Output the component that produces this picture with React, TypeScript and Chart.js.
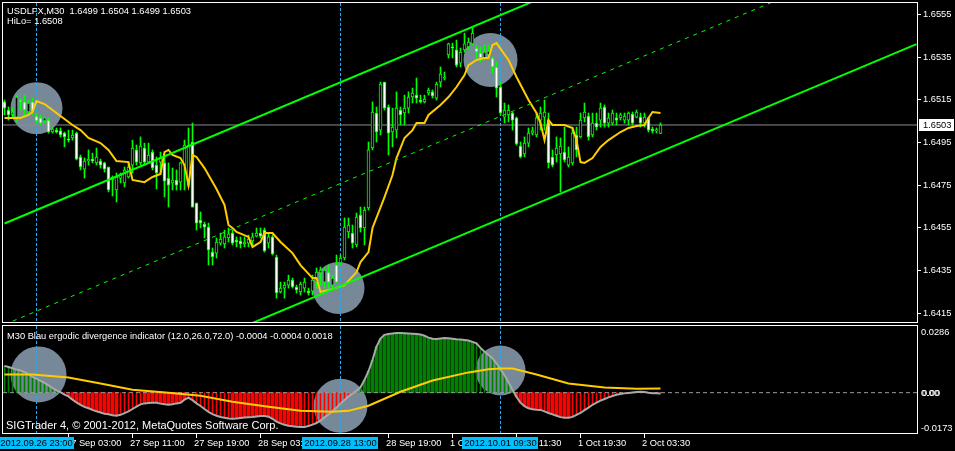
import React, { useEffect, useRef } from 'react';
import { Chart, registerables } from 'chart.js';
Chart.register(...registerables);

// ---------- main panel data (USDLFX, M30) ----------
const barOpen = [
  1.65138, 1.651, 1.65081, 1.65067, 1.65147, 1.65138, 1.65091, 1.65138, 1.65072, 1.65063,
  1.65049, 1.65053, 1.64997, 1.65006, 1.65002, 1.64992, 1.64964, 1.64969, 1.64992, 1.6488,
  1.64823, 1.64861, 1.6487, 1.64852, 1.64861, 1.64852, 1.64833, 1.64772, 1.64725, 1.64781,
  1.64758, 1.64786, 1.64842, 1.64913, 1.64852, 1.64922, 1.64856, 1.64903, 1.64842, 1.64856,
  1.64852, 1.64781, 1.64758, 1.64772, 1.64762, 1.64842, 1.64748, 1.6495, 1.64664, 1.64584,
  1.64565, 1.64551, 1.64434, 1.64429, 1.64476, 1.64472, 1.645, 1.64523, 1.6449, 1.64486,
  1.64472, 1.64476, 1.64486, 1.64509, 1.64523, 1.64537, 1.64476, 1.64505, 1.64411, 1.64247,
  1.64265, 1.64279, 1.64303, 1.6427, 1.64247, 1.64265, 1.64251, 1.64251, 1.64293, 1.64336,
  1.64293, 1.6434, 1.64279, 1.64373, 1.64383, 1.64406, 1.64528, 1.64523, 1.64467, 1.64608,
  1.64547, 1.64641, 1.64922, 1.65086, 1.65006, 1.65231, 1.65114, 1.64997, 1.65006, 1.651,
  1.65086, 1.65109, 1.65161, 1.6517, 1.65147, 1.65138, 1.6518, 1.65185, 1.65156, 1.65231,
  1.6525, 1.65358, 1.65396, 1.65382, 1.6532, 1.65382, 1.65396, 1.6541, 1.65391, 1.65367,
  1.65344, 1.65358, 1.65344, 1.65302, 1.65208, 1.65067, 1.65077, 1.65086, 1.65063, 1.64931,
  1.64894, 1.64945, 1.64992, 1.64983, 1.65053, 1.65067, 1.65053, 1.6488, 1.64889, 1.64894,
  1.64903, 1.64842, 1.64852, 1.64983, 1.64974, 1.65063, 1.65072, 1.64983, 1.65039, 1.65053,
  1.65114, 1.65039, 1.65039, 1.65063, 1.65063, 1.65053, 1.65053, 1.65081, 1.65067, 1.65067,
  1.65039, 1.65063, 1.65011, 1.65002, 1.6499,
];
const barHigh = [
  1.65147, 1.65114, 1.65109, 1.6517, 1.65152, 1.6517, 1.65147, 1.65156, 1.65086, 1.65077,
  1.65067, 1.65063, 1.6502, 1.65016, 1.65016, 1.64997, 1.65006, 1.65006, 1.64997, 1.64889,
  1.64875, 1.64913, 1.64898, 1.64922, 1.6487, 1.64856, 1.64833, 1.64791, 1.64805, 1.64805,
  1.64833, 1.64856, 1.64959, 1.64936, 1.64974, 1.64945, 1.64945, 1.64913, 1.6488, 1.64903,
  1.64889, 1.64852, 1.64828, 1.64819, 1.64856, 1.64959, 1.65016, 1.65039, 1.64664, 1.64622,
  1.64575, 1.6457, 1.64453, 1.645, 1.64523, 1.64537, 1.64547, 1.64537, 1.64505, 1.64505,
  1.64505, 1.64514, 1.64523, 1.64547, 1.64547, 1.64547, 1.64523, 1.64514, 1.6442, 1.64293,
  1.64293, 1.64326, 1.64312, 1.64279, 1.64293, 1.64312, 1.64265, 1.64326, 1.64359, 1.64364,
  1.64359, 1.64373, 1.64326, 1.6442, 1.6442, 1.64594, 1.64594, 1.64561, 1.64617, 1.64645,
  1.64645, 1.6495, 1.65138, 1.65114, 1.65231, 1.65231, 1.65124, 1.65109, 1.65185, 1.65114,
  1.6517, 1.65185, 1.65203, 1.6525, 1.6517, 1.6517, 1.65203, 1.65194, 1.65231, 1.65302,
  1.65278, 1.65414, 1.65414, 1.65428, 1.65391, 1.65461, 1.65438, 1.65485, 1.65405, 1.65396,
  1.65405, 1.65405, 1.65349, 1.65325, 1.65231, 1.65133, 1.65124, 1.65091, 1.65067, 1.6495,
  1.64974, 1.65016, 1.6502, 1.65086, 1.65114, 1.65147, 1.65086, 1.64913, 1.64974, 1.64969,
  1.6502, 1.64927, 1.6502, 1.6502, 1.65086, 1.65133, 1.65086, 1.65086, 1.65086, 1.65133,
  1.65124, 1.65086, 1.651, 1.65086, 1.65086, 1.65086, 1.65091, 1.65091, 1.651, 1.65086,
  1.65086, 1.65067, 1.6502, 1.65016, 1.6504,
];
const barLow = [
  1.65077, 1.65053, 1.65063, 1.65044, 1.651, 1.65077, 1.65086, 1.65077, 1.65039, 1.6503,
  1.65039, 1.64992, 1.64992, 1.64992, 1.64974, 1.64927, 1.6495, 1.64959, 1.64866, 1.64819,
  1.64781, 1.64842, 1.64852, 1.64842, 1.64828, 1.64809, 1.64716, 1.64697, 1.64669, 1.64758,
  1.64739, 1.64781, 1.64805, 1.64842, 1.64842, 1.64842, 1.64852, 1.64819, 1.6473, 1.64805,
  1.64692, 1.64645, 1.64725, 1.64725, 1.64725, 1.64725, 1.64739, 1.64645, 1.64537, 1.64547,
  1.645, 1.64373, 1.64373, 1.64406, 1.64467, 1.64453, 1.64481, 1.64467, 1.64458, 1.64453,
  1.64458, 1.64458, 1.64467, 1.64505, 1.645, 1.64434, 1.64453, 1.6442, 1.64218, 1.64242,
  1.64218, 1.64265, 1.64265, 1.64242, 1.64232, 1.64247, 1.64232, 1.64232, 1.64265, 1.64279,
  1.64265, 1.64265, 1.64256, 1.64289, 1.64373, 1.64397, 1.645, 1.64453, 1.64458, 1.64528,
  1.64467, 1.64631, 1.64913, 1.6495, 1.64983, 1.651, 1.64889, 1.64927, 1.64969, 1.6503,
  1.6503, 1.65086, 1.65133, 1.65133, 1.65133, 1.65133, 1.6517, 1.65156, 1.65147, 1.65208,
  1.65241, 1.65344, 1.65344, 1.65302, 1.65302, 1.65372, 1.65382, 1.65405, 1.65344, 1.65325,
  1.65335, 1.65344, 1.65274, 1.65161, 1.65077, 1.65039, 1.65044, 1.65006, 1.64936, 1.64875,
  1.6488, 1.64927, 1.64983, 1.64974, 1.65006, 1.65006, 1.64828, 1.64833, 1.64856, 1.64716,
  1.64856, 1.64833, 1.64842, 1.6488, 1.64969, 1.65044, 1.64959, 1.64974, 1.65006, 1.6502,
  1.6502, 1.6502, 1.6503, 1.6503, 1.65053, 1.65039, 1.6503, 1.6503, 1.65063, 1.6502,
  1.6502, 1.64997, 1.64992, 1.64992, 1.6499,
];
const barClose = [
  1.65109, 1.65077, 1.65091, 1.65161, 1.65138, 1.651, 1.65133, 1.65091, 1.65049, 1.65039,
  1.65063, 1.64997, 1.65011, 1.64997, 1.64983, 1.64974, 1.64959, 1.64983, 1.6487, 1.64833,
  1.64861, 1.6487, 1.64861, 1.6488, 1.64842, 1.64823, 1.64725, 1.64786, 1.64786, 1.64795,
  1.64819, 1.64833, 1.64922, 1.64856, 1.64931, 1.64856, 1.64889, 1.64828, 1.64805, 1.64875,
  1.64767, 1.64748, 1.64772, 1.64748, 1.64852, 1.64936, 1.64936, 1.64645, 1.6457, 1.6457,
  1.64551, 1.64444, 1.64411, 1.64481, 1.64495, 1.64505, 1.64519, 1.64476, 1.64481, 1.64472,
  1.64481, 1.64495, 1.64505, 1.64523, 1.64509, 1.64439, 1.64505, 1.64425, 1.64242, 1.64265,
  1.64279, 1.64303, 1.6427, 1.64256, 1.64284, 1.64293, 1.64242, 1.64303, 1.6434, 1.6435,
  1.6435, 1.64293, 1.64312, 1.64293, 1.64406, 1.64551, 1.64561, 1.64476, 1.64598, 1.64547,
  1.64631, 1.64913, 1.65091, 1.64997, 1.65222, 1.65109, 1.64992, 1.6502, 1.65109, 1.65077,
  1.65109, 1.65161, 1.6518, 1.65156, 1.65138, 1.65152, 1.65194, 1.65166, 1.65222, 1.65269,
  1.65255, 1.6541, 1.65391, 1.65311, 1.65372, 1.6541, 1.65419, 1.65461, 1.65372, 1.65344,
  1.65372, 1.65377, 1.65302, 1.65203, 1.65086, 1.651, 1.651, 1.65053, 1.64941, 1.6488,
  1.64945, 1.64992, 1.65002, 1.65063, 1.65086, 1.65091, 1.64852, 1.64842, 1.64922, 1.64931,
  1.64866, 1.6488, 1.64992, 1.64913, 1.65053, 1.65091, 1.64974, 1.65039, 1.6502, 1.65109,
  1.65039, 1.65063, 1.65086, 1.65053, 1.65077, 1.65072, 1.65086, 1.65039, 1.65091, 1.65039,
  1.65067, 1.65006, 1.65002, 1.65006, 1.6503,
];

// moving average (yellow) read at bar indices
const maIdx = [
  0, 4, 6, 7, 8, 10, 12, 15, 17, 19, 21, 24, 26, 28, 31, 32, 35, 37, 39, 40,
  41, 42, 44, 45, 46, 47, 48, 50, 53, 55, 56, 57, 58, 61, 62, 64, 65, 67, 69, 72,
  74, 77, 78, 79, 80, 82, 85, 88, 89, 91, 92, 95, 97, 98, 100, 102, 103, 105, 106, 109,
  111, 113, 115, 116, 118, 120, 121, 122, 123, 126, 128, 131, 133, 134, 135, 136, 137, 140, 142, 143,
  144, 145, 147, 149, 151, 154, 156, 158, 160, 161, 162, 164,
];
const maVal = [
  1.65063, 1.65063, 1.65077, 1.65091, 1.65142, 1.65128, 1.651, 1.65058, 1.6503, 1.65006,
  1.64969, 1.64945, 1.64913, 1.64861, 1.64856, 1.64772, 1.64762, 1.64786, 1.648, 1.64903,
  1.64913, 1.64889, 1.64875, 1.64842, 1.64748, 1.64889, 1.6488, 1.64828, 1.6473, 1.64655,
  1.64561, 1.64547, 1.64528, 1.64505, 1.64458, 1.64481, 1.64523, 1.64523, 1.64481, 1.64429,
  1.64373, 1.64312, 1.64312, 1.64247, 1.64251, 1.6426, 1.64279, 1.6434, 1.64387, 1.64434,
  1.64547, 1.64692, 1.64795, 1.64875, 1.64969, 1.65006, 1.65039, 1.65039, 1.65077, 1.65124,
  1.65161, 1.65208, 1.65264, 1.65311, 1.65335, 1.65344, 1.65344, 1.65405, 1.65414, 1.65335,
  1.65255, 1.65147, 1.65086, 1.65039, 1.64959, 1.65053, 1.6503, 1.6503, 1.65016, 1.64959,
  1.64856, 1.64852, 1.64875, 1.64927, 1.64959, 1.64997, 1.65016, 1.65025, 1.6503, 1.65063,
  1.65091, 1.65086,
];

// regression channel (rays), values at the two end bar indices
const channelIdx = [0, 228];
const channelUpper = [1.64568, 1.66365];
const channelMiddle = [1.64094, 1.6589];
const channelLower = [1.63613, 1.65409];

const priceTicks = [1.6555, 1.6535, 1.6515, 1.6495, 1.6475, 1.6455, 1.6435, 1.6415];
const bidPrice = 1.6503;

// annotation circles
const mainCircleIdx = [8, 83.5, 121.5];
const mainCirclePrice = [1.65109, 1.64265, 1.65335];

// ---------- indicator panel data ----------
const ergodic = [
  0.0115, 0.011, 0.0105, 0.0099, 0.0095, 0.0088, 0.0078, 0.0068, 0.006, 0.0051,
  0.0042, 0.0031, 0.002, 0.001, 0.0002, -0.0008, -0.0016, -0.003, -0.0042, -0.0052,
  -0.0061, -0.0067, -0.0074, -0.008, -0.0085, -0.009, -0.0093, -0.0097, -0.0099, -0.0095,
  -0.0088, -0.008, -0.007, -0.006, -0.005, -0.0046, -0.0044, -0.0043, -0.0043, -0.0047,
  -0.005, -0.0052, -0.005, -0.0046, -0.0043, -0.003, -0.0021, -0.0032, -0.0046, -0.0057,
  -0.007, -0.0082, -0.0092, -0.0099, -0.0104, -0.0108, -0.0111, -0.0112, -0.0111, -0.0109,
  -0.0107, -0.0105, -0.0104, -0.0102, -0.01, -0.01, -0.0103, -0.0112, -0.0124, -0.0132,
  -0.0138, -0.0142, -0.0144, -0.0146, -0.0147, -0.0147, -0.0143, -0.0137, -0.013, -0.012,
  -0.0106, -0.0093, -0.008, -0.0064, -0.0047, -0.0031, -0.0016, -0.0004, 0.0008, 0.0023,
  0.0055, 0.0092, 0.014, 0.0198, 0.0232, 0.0248, 0.0252, 0.0254, 0.0256, 0.0256,
  0.0255, 0.0254, 0.0253, 0.0252, 0.025, 0.0244, 0.0236, 0.0231, 0.023, 0.0232,
  0.0234, 0.0233, 0.0231, 0.0229, 0.0228, 0.0226, 0.0224, 0.0218, 0.0212, 0.0192,
  0.0176, 0.0162, 0.0148, 0.0125, 0.01, 0.0075, 0.0045, 0.0012, -0.0018, -0.0043,
  -0.0058, -0.0067, -0.0071, -0.0073, -0.0074, -0.008, -0.0087, -0.0093, -0.0099, -0.0105,
  -0.0108, -0.0108, -0.0104, -0.0095, -0.0087, -0.0075, -0.0064, -0.0052, -0.0043, -0.0034,
  -0.0027, -0.002, -0.0014, -0.0009, -0.0006, -0.0003, -0.0001, 0.0001, 0.0003, 0.0004,
  0.0003, 0.0, -0.0002, -0.0003, -0.0004,
];
// bar ranges where the histogram is drawn wide (solid) in the picture
const wideStart = [16, 35, 57, 90, 128, 136];
const wideEnd = [28, 45, 74, 117, 134, 141];
const signalIdx = [0, 7, 16, 24, 32, 41, 49, 57, 66, 74, 82, 86, 91, 99, 107, 116, 121, 124, 127, 133, 141, 150, 158, 164];
const signalVal = [
  0.0078, 0.0078, 0.0065, 0.0039, 0.0013, 0.0, -0.0013, -0.0039, -0.006, -0.0078,
  -0.0082, -0.0078, -0.0056, 0.0004, 0.0052, 0.0087, 0.01, 0.0104, 0.0104, 0.0078,
  0.0039, 0.0022, 0.0017, 0.0018,
];
const indTicks = [0.0286, 0, -0.0173];
const indTickLabels = ['0.0286', '0.00', '-0.0173'];
const indCircleIdx = [8.5, 84, 124];
const indCircleVal = [0.0078, -0.0056, 0.0095];

// ---------- time axis ----------
const timeTickIdx = [16, 32, 48, 64, 96, 112, 128, 144, 160];
const timeTickLabels = [
  '27 Sep 03:00', '27 Sep 11:00', '27 Sep 19:00', '28 Sep 03:00', '28 Sep 19:00',
  '1 Oct 03:30', '1 Oct 11:30', '1 Oct 19:30', '2 Oct 03:30',
];
const markerIdx = [8, 84, 124];
const markerLabels = ['2012.09.26 23:00', '2012.09.28 13:00', '2012.10.01 09:30'];

// ---------- styles ----------
const X_MIN = -0.375;
const X_MAX = 228.125;
const PRICE_MIN = 1.64106;
const PRICE_MAX = 1.65602;
const IND_MIN = -0.0173;
const IND_MAX = 0.0286;
const FONT = "9.3px 'Liberation Sans', Arial, sans-serif";
const FOOTER_FONT = "11px 'Liberation Sans', Arial, sans-serif";
const LIME = '#00ff00';
const GOLD = '#ffcc00';
const SLATE = '#778899';
const SEP_BLUE = '#2aa8e8';
const BOX_BLUE = '#00bfff';
const MAIN_CIRCLE_R = [26, 26, 27];
const IND_CIRCLE_R = [28, 27, 25];

function drawVLines(chart: any) {
  const { ctx, chartArea, scales } = chart;
  ctx.save();
  ctx.strokeStyle = SEP_BLUE;
  ctx.lineWidth = 1;
  ctx.setLineDash([3, 2]);
  markerIdx.forEach((i) => {
    const x = Math.floor(scales.x.getPixelForValue(i)) + 0.5;
    ctx.beginPath();
    ctx.moveTo(x, chartArea.top);
    ctx.lineTo(x, chartArea.bottom);
    ctx.stroke();
  });
  ctx.restore();
}

function drawCircles(chart: any, idx: number[], val: number[], rad: number[]) {
  const { ctx, scales, chartArea } = chart;
  ctx.save();
  ctx.beginPath();
  ctx.rect(chartArea.left, chartArea.top, chartArea.right - chartArea.left, chartArea.bottom - chartArea.top);
  ctx.clip();
  ctx.fillStyle = SLATE;
  idx.forEach((i, k) => {
    ctx.beginPath();
    ctx.arc(scales.x.getPixelForValue(i), scales.y.getPixelForValue(val[k]), rad[k], 0, Math.PI * 2);
    ctx.fill();
  });
  ctx.restore();
}

const mainPlugin = {
  id: 'mainDeco',
  beforeDraw(chart: any) {
    const { ctx, width, height } = chart;
    ctx.save();
    ctx.fillStyle = '#000';
    ctx.fillRect(0, 0, width, height);
    ctx.restore();
  },
  beforeDatasetsDraw(chart: any) {
    drawCircles(chart, mainCircleIdx, mainCirclePrice, MAIN_CIRCLE_R);
    drawVLines(chart);
  },
  afterDraw(chart: any) {
    const { ctx, scales } = chart;
    ctx.save();
    ctx.strokeStyle = '#fff';
    ctx.lineWidth = 1;
    ctx.setLineDash([]);
    ctx.strokeRect(2.5, 2.5, 915, 320);
    ctx.font = FONT;
    ctx.fillStyle = '#fff';
    ctx.textBaseline = 'middle';
    ctx.textAlign = 'left';
    ctx.fillText('USDLFX,M30  1.6499 1.6504 1.6499 1.6503', 7, 11);
    ctx.fillText('HiLo= 1.6508', 7, 21.5);
    priceTicks.forEach((v) => {
      const y = scales.y.getPixelForValue(v);
      ctx.fillRect(918, Math.round(y), 3, 1);
      ctx.fillText(v.toFixed(4), 923, y + 0.5);
    });
    const by = scales.y.getPixelForValue(bidPrice);
    ctx.fillStyle = '#fff';
    ctx.fillRect(919, Math.round(by) - 6, 35, 12);
    ctx.fillStyle = '#000';
    ctx.fillText(bidPrice.toFixed(4), 923, by + 0.5);
    ctx.restore();
  },
};

const indPlugin = {
  id: 'indDeco',
  beforeDraw(chart: any) {
    const { ctx, width, height } = chart;
    ctx.save();
    ctx.fillStyle = '#000';
    ctx.fillRect(0, 0, width, height);
    ctx.restore();
  },
  beforeDatasetsDraw(chart: any) {
    drawCircles(chart, indCircleIdx, indCircleVal, IND_CIRCLE_R);
    drawVLines(chart);
  },
  afterDraw(chart: any) {
    const { ctx, scales, chartArea } = chart;
    ctx.save();
    ctx.strokeStyle = '#fff';
    ctx.lineWidth = 1;
    ctx.setLineDash([]);
    ctx.strokeRect(2.5, 1.5, 915, 108);
    ctx.font = FONT;
    ctx.fillStyle = '#fff';
    ctx.textBaseline = 'middle';
    ctx.textAlign = 'left';
    ctx.fillText('M30 Blau ergodic divergence indicator (12.0,26.0,72.0) -0.0004 -0.0004 0.0018', 7, 12.5);
    ctx.font = FOOTER_FONT;
    ctx.fillText('SIGTrader 4, \u00A9 2001-2012, MetaQuotes Software Corp.', 6, 102);
    ctx.font = FONT;
    indTicks.forEach((v, k) => {
      const y = scales.y.getPixelForValue(v);
      let ty = y;
      if (k === 0) ty = y + 6;
      if (k === indTicks.length - 1) ty = y - 5;
      ctx.fillText(indTickLabels[k], 921, ty + 0.5);
      if (v === 0) ctx.fillText(indTickLabels[k], 922, ty + 0.5);
    });
    const base = chartArea.bottom;
    timeTickIdx.forEach((i, k) => {
      const x = Math.floor(scales.x.getPixelForValue(i));
      ctx.fillStyle = '#fff';
      ctx.fillRect(x, base + 1, 1, 4);
      ctx.fillText(timeTickLabels[k], x - 2, base + 10.5);
    });
    markerIdx.forEach((i, k) => {
      const x = scales.x.getPixelForValue(i);
      const w = ctx.measureText(markerLabels[k]).width + 4;
      ctx.fillStyle = BOX_BLUE;
      ctx.fillRect(Math.round(x - w / 2), base + 4, Math.round(w), 12);
      ctx.fillStyle = '#000';
      ctx.textAlign = 'center';
      ctx.fillText(markerLabels[k], x, base + 10.5);
      ctx.textAlign = 'left';
    });
    ctx.restore();
  },
};

export default function App() {
  const mainRef = useRef<HTMLCanvasElement>(null);
  const indRef = useRef<HTMLCanvasElement>(null);

  useEffect(() => {
    document.body.style.margin = '0';
    document.body.style.background = '#000';
    const idx = barOpen.map((_, i) => i);

    const mainChart = new Chart(mainRef.current as HTMLCanvasElement, {
      type: 'bar',
      data: {
        datasets: [
          {
            type: 'line',
            data: [{ x: X_MIN, y: bidPrice }, { x: X_MAX, y: bidPrice }],
            borderColor: '#8c8c94',
            borderWidth: 1,
            pointRadius: 0,
            order: 9,
            clip: 0,
          } as any,
          {
            type: 'bar',
            data: idx.map((i) => ({ x: i, y: [barLow[i], barHigh[i]] })),
            backgroundColor: LIME,
            barThickness: 1,
            grouped: false,
            order: 5,
          } as any,
          {
            type: 'bar',
            data: idx.map((i) => ({ x: i, y: [barOpen[i], barClose[i]] })),
            backgroundColor: idx.map((i) => (barClose[i] < barOpen[i] ? '#ffffff' : '#000000')),
            borderColor: LIME,
            borderWidth: 1,
            borderSkipped: false,
            barThickness: 3,
            minBarLength: 1,
            grouped: false,
            order: 4,
          } as any,
          {
            type: 'line',
            data: maIdx.map((i, k) => ({ x: i, y: maVal[k] })),
            borderColor: GOLD,
            borderWidth: 2,
            pointRadius: 0,
            tension: 0,
            order: 3,
            clip: 0,
          } as any,
          ...[channelUpper, channelLower].map(
            (arr) =>
              ({
                type: 'line',
                data: channelIdx.map((i, k) => ({ x: i, y: arr[k] })),
                borderColor: LIME,
                borderWidth: 2,
                pointRadius: 0,
                order: 1,
                clip: 0,
              }) as any,
          ),
          {
            type: 'line',
            data: channelIdx.map((i, k) => ({ x: i, y: channelMiddle[k] })),
            borderColor: LIME,
            borderWidth: 1,
            borderDash: [4, 5],
            pointRadius: 0,
            order: 2,
            clip: 0,
          } as any,
        ],
      },
      options: {
        animation: false,
        responsive: false,
        maintainAspectRatio: false,
        devicePixelRatio: 1,
        layout: { padding: { left: 3, top: 3, right: 38, bottom: 2 } },
        plugins: { legend: { display: false }, tooltip: { enabled: false } },
        scales: {
          x: { type: 'linear', min: X_MIN, max: X_MAX, display: false, offset: false },
          y: { type: 'linear', min: PRICE_MIN, max: PRICE_MAX, display: false },
        },
      } as any,
      plugins: [mainPlugin],
    });

    const isWide = (i: number) => wideStart.some((s, k) => i >= s && i <= wideEnd[k]);
    const histColor = (v: number) => (v >= 0 ? '#008000' : '#ff0000');
    const wideIdx = idx.filter((i) => isWide(i));

    const indChart = new Chart(indRef.current as HTMLCanvasElement, {
      type: 'bar',
      data: {
        datasets: [
          {
            type: 'bar',
            data: idx.map((i) => ({ x: i, y: ergodic[i] })),
            backgroundColor: idx.map((i) => histColor(ergodic[i])),
            barThickness: 1,
            grouped: false,
            order: 6,
          } as any,
          {
            type: 'bar',
            data: wideIdx.map((i) => ({ x: i, y: ergodic[i] })),
            backgroundColor: wideIdx.map((i) => histColor(ergodic[i])),
            barThickness: 3,
            grouped: false,
            order: 5,
          } as any,
          {
            type: 'line',
            data: [{ x: X_MIN, y: 0 }, { x: X_MAX, y: 0 }],
            borderColor: '#9a9a9a',
            borderWidth: 1,
            borderDash: [4, 3],
            pointRadius: 0,
            order: 4,
            clip: 0,
          } as any,
          {
            type: 'line',
            data: idx.map((i) => ({ x: i, y: ergodic[i] })),
            borderColor: '#a9a9a9',
            borderWidth: 2,
            pointRadius: 0,
            tension: 0,
            order: 3,
            clip: 0,
          } as any,
          {
            type: 'line',
            data: signalIdx.map((i, k) => ({ x: i, y: signalVal[k] })),
            borderColor: GOLD,
            borderWidth: 2,
            pointRadius: 0,
            tension: 0,
            order: 2,
            clip: 0,
          } as any,
        ],
      },
      options: {
        animation: false,
        responsive: false,
        maintainAspectRatio: false,
        devicePixelRatio: 1,
        layout: { padding: { left: 3, top: 2, right: 38, bottom: 18 } },
        plugins: { legend: { display: false }, tooltip: { enabled: false } },
        scales: {
          x: { type: 'linear', min: X_MIN, max: X_MAX, display: false, offset: false },
          y: { type: 'linear', min: IND_MIN, max: IND_MAX, display: false },
        },
      } as any,
      plugins: [indPlugin],
    });

    return () => {
      mainChart.destroy();
      indChart.destroy();
    };
  }, []);

  return (
    <div style={{ position: 'relative', width: 955, height: 451, background: '#000', overflow: 'hidden' }}>
      <canvas ref={mainRef} width={955} height={324} style={{ position: 'absolute', left: 0, top: 0 }} />
      <canvas ref={indRef} width={955} height={127} style={{ position: 'absolute', left: 0, top: 324 }} />
    </div>
  );
}
